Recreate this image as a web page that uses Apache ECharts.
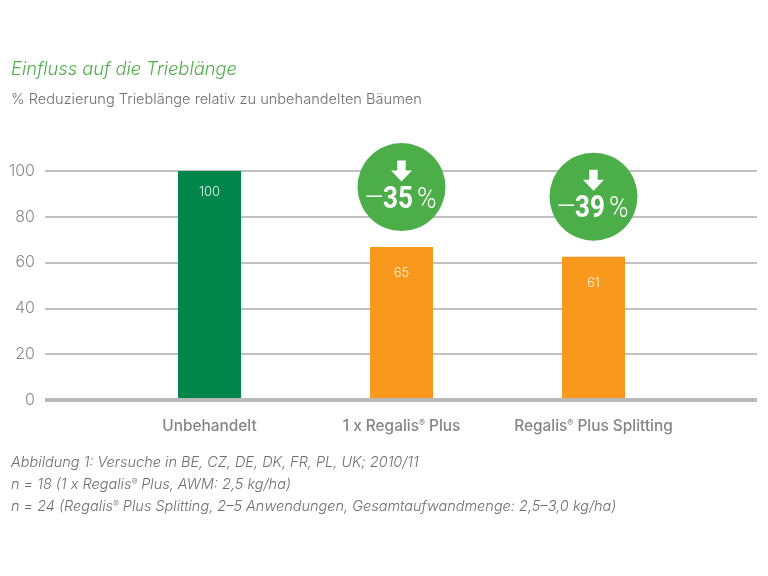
<!DOCTYPE html>
<html><head><meta charset="utf-8">
<style>html,body{margin:0;padding:0;background:#fff}#c{width:768px;height:576px}</style>
<script src="https://cdn.jsdelivr.net/npm/echarts@6/dist/echarts.min.js"></script>
</head><body><div id="c"></div>
<script>
const categories = ['Unbehandelt', '1 x Regalis{s|®} Plus', 'Regalis{s|®} Plus Splitting'];
const barHeights = [100, 66.8, 62.6];
const valueLabels = ['100', '65', '61'];
const barColors = ['#00854a', '#f8991d', '#f8991d'];
const badgeCircleY = [[1, 93], [2, 88.8]];
const badgeArrowY = [[1, 100], [2, 96]];
const badgeTextY = [[1, 88.4], [2, 84.4]];
const badgeValues = ['35', '39'];
const titleText = 'Einfluss auf die Trieblänge';
const subtitleText = '% Reduzierung Trieblänge relativ zu unbehandelten Bäumen';
const notes = [
  'Abbildung 1: Versuche in BE, CZ, DE, DK, FR, PL, UK; 2010/11',
  'n = 18 (1 x Regalis{s|®} Plus, AWM: 2,5 kg/ha)',
  'n = 24 (Regalis{s|®} Plus Splitting, 2–5 Anwendungen, Gesamtaufwandmenge: 2,5–3,0 kg/ha)'
];
const FONT = 'Inter, "Liberation Sans", sans-serif';
const noteY = [455.5, 477.5, 499.5];
const chart = echarts.init(document.getElementById('c'), null, {renderer: 'canvas'});
chart.setOption({
  animation: false,
  backgroundColor: '#fff',
  textStyle: {fontFamily: FONT},
  title: [
    {text: titleText, left: 11, top: 61, padding: 0, textStyle: {fontFamily: FONT, fontSize: 18.3, fontStyle: 'italic', fontWeight: 300, color: '#4fae48'}},
    {text: subtitleText, left: 11, top: 92.5, padding: 0, textStyle: {fontFamily: FONT, fontSize: 14.6, fontWeight: 300, color: '#707070'}},
    ...notes.map((t, i) => ({text: t, left: 11, top: noteY[i], padding: 0, textStyle: {fontFamily: FONT, fontSize: 14.5, fontStyle: 'italic', fontWeight: 300, color: '#6e6e6e',
      rich: {s: {fontFamily: FONT, fontSize: 8.5, fontStyle: 'italic', fontWeight: 300, color: '#6e6e6e', verticalAlign: 'top', padding: [0, 0, 5, 0]}}}}))
  ],
  grid: [
    {left: 45, width: 712, top: 171, height: 229},
    {left: 113.5, width: 576, top: 171, height: 229}
  ],
  xAxis: [
    {gridIndex: 0, type: 'category', data: [''], offset: 1, axisTick: {show: false}, axisLabel: {show: false}, z: 5,
     axisLine: {lineStyle: {color: '#b9b9b9', width: 4, cap: 'butt'}}},
    {gridIndex: 1, type: 'category', data: categories, axisTick: {show: false}, axisLine: {show: false},
     axisLabel: {interval: 0, margin: 18.5, fontFamily: FONT, fontSize: 15.4, fontWeight: 500, color: '#858585',
       rich: {s: {fontFamily: FONT, fontSize: 9, fontWeight: 500, color: '#858585', verticalAlign: 'top', padding: [0, 0, 5, 0]}}}}
  ],
  yAxis: [
    {gridIndex: 0, type: 'value', min: 0, max: 100, interval: 20, axisLine: {show: false}, axisTick: {show: false},
     axisLabel: {margin: 10, padding: [4, 0, 0, 0], fontFamily: FONT, fontSize: 16, fontWeight: 300, color: '#8a8a8a'},
     splitLine: {lineStyle: {color: '#c0c0c0', width: 2}}},
    {gridIndex: 1, type: 'value', min: 0, max: 100, interval: 20, show: false, splitLine: {show: false}}
  ],
  series: [
    {type: 'bar', xAxisIndex: 1, yAxisIndex: 1, barWidth: 63, z: 3,
     data: barHeights.map((v, i) => ({
       value: v, itemStyle: {color: barColors[i]},
       label: {show: true, position: 'insideTop', distance: i === 0 ? 15 : 20, formatter: valueLabels[i],
         fontFamily: FONT, fontSize: 13, fontWeight: 300, color: '#ffffff', opacity: 0.9}
     }))},
    {type: 'scatter', xAxisIndex: 1, yAxisIndex: 1, clip: false, z: 4, symbol: 'circle', symbolSize: 88,
     itemStyle: {color: '#4cae48', opacity: 1}, data: badgeCircleY},
    {type: 'scatter', xAxisIndex: 1, yAxisIndex: 1, clip: false, z: 5,
     symbol: 'path://M6,0 L14,0 L14,10 L20,10 L10,21 L0,10 L6,10 Z', symbolSize: [21, 21],
     itemStyle: {color: '#ffffff', opacity: 1}, data: badgeArrowY},
    {type: 'custom', xAxisIndex: 1, yAxisIndex: 1, clip: false, z: 6, data: badgeTextY,
     encode: {x: 0, y: 1},
     renderItem: (params, api) => {
       const [x, y] = api.coord([api.value(0), api.value(1)]);
       const part = (dx, sx, text, font, fs, weight) => ({
         type: 'text', x: x + dx, y: y + 2.5, scaleX: sx, scaleY: 1,
         style: {text, fill: '#fff', fontFamily: font, fontSize: fs, fontWeight: weight, align: 'left', verticalAlign: 'middle'}
       });
       return {type: 'group', children: [
         part(-37.5, 1.1, '–', 'Roboto', 29, 300),
         part(-18.5, 0.84, badgeValues[params.dataIndex], 'Roboto', 31, 'bold'),
         part(15.5, 0.88, '%', 'Roboto', 30, 300)
       ]};
     }}
  ]
});
</script></body></html>
